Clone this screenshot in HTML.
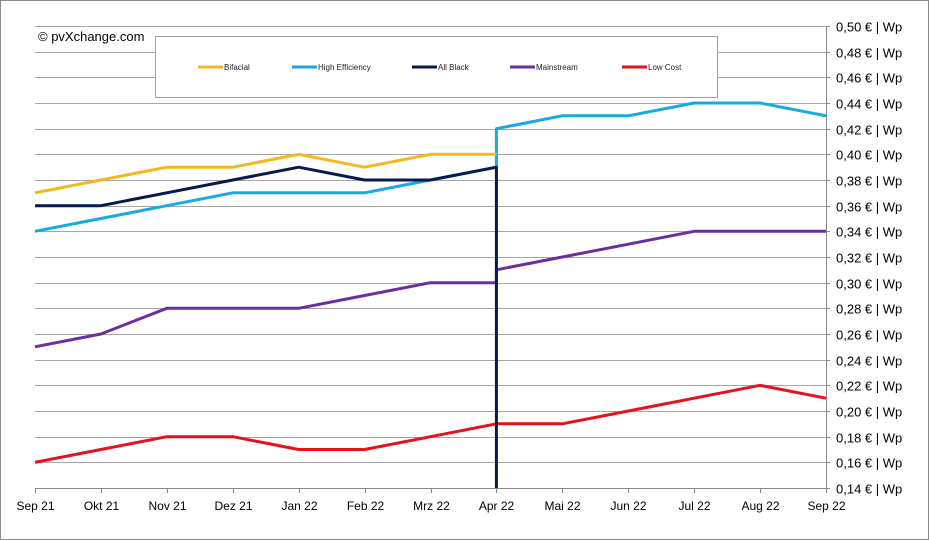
<!DOCTYPE html>
<html><head><meta charset="utf-8"><style>
body{margin:0;background:#fff;}
svg{display:block;font-family:"Liberation Sans",sans-serif;}
</style></head><body>
<svg id="c" width="929" height="540" xmlns="http://www.w3.org/2000/svg">
<rect x="0.5" y="0.5" width="928" height="539" fill="#fff" stroke="#8a8a8a"/>
<g id="grid"></g>
<g id="series"></g>
<g id="axes"></g>
<text x="38" y="41" font-size="13" fill="#000">© pvXchange.com</text>
<g>
<rect x="155.5" y="36.5" width="562" height="61" fill="#fff" stroke="#a0a0a0"/>
<g id="legend"></g>
</g>
</svg>
<script>
const categories=["Sep 21","Okt 21","Nov 21","Dez 21","Jan 22","Feb 22","Mrz 22","Apr 22","Mai 22","Jun 22","Jul 22","Aug 22","Sep 22"];
const yTicks=[0.14,0.16,0.18,0.20,0.22,0.24,0.26,0.28,0.30,0.32,0.34,0.36,0.38,0.40,0.42,0.44,0.46,0.48,0.50];
const seriesNames=["Bifacial","High Efficiency","All Black","Mainstream","Low Cost"];
const seriesColors=["#f4b81c","#17a9e1","#061a4f","#6a2f9e","#e8101a"];
// values Sep21..Apr22 (before change) and Apr22..Sep22 (after change)
const bifacialPre=[0.37,0.38,0.39,0.39,0.40,0.39,0.40,0.40];
const bifacialPost=[];
const highEffPre=[0.34,0.35,0.36,0.37,0.37,0.37,0.38,0.39];
const highEffPost=[0.42,0.43,0.43,0.44,0.44,0.43];
const allBlackPre=[0.36,0.36,0.37,0.38,0.39,0.38,0.38,0.39];
const allBlackPost=[0.14];
const mainstreamPre=[0.25,0.26,0.28,0.28,0.28,0.29,0.30,0.30];
const mainstreamPost=[0.31,0.32,0.33,0.34,0.34,0.34];
const lowCostPre=[0.16,0.17,0.18,0.18,0.17,0.17,0.18,0.19];
const lowCostPost=[0.19,0.19,0.20,0.21,0.22,0.21];
const pre=[bifacialPre,highEffPre,allBlackPre,mainstreamPre,lowCostPre];
const post=[bifacialPost,highEffPost,allBlackPost,mainstreamPost,lowCostPost];

const NS="http://www.w3.org/2000/svg";
const X0=35,X1=826,Y0=488,Y1=26,vmin=0.14,vmax=0.50;
const xs=i=>X0+(X1-X0)*i/(categories.length-1);
const ys=v=>Y0-(Y0-Y1)*(v-vmin)/(vmax-vmin);
function mk(tag,attrs,parent){const e=document.createElementNS(NS,tag);for(const k in attrs)e.setAttribute(k,attrs[k]);parent.appendChild(e);return e;}
const grid=document.getElementById('grid'),axes=document.getElementById('axes'),ser=document.getElementById('series'),leg=document.getElementById('legend');
yTicks.forEach(t=>{
 const y=Math.round(ys(t))+0.5;
 if(t>vmin){const l=mk('line',{x1:X0,x2:X1,y1:y,y2:y,stroke:'#a6a6a6','stroke-width':1},grid);
 
 }
 const tk=mk('line',{x1:X1,x2:X1+4,y1:y,y2:y,stroke:'#888'},axes);
 
 
 const tx=mk('text',{x:X1+10,y:y+5,'font-size':13,fill:'#000'},axes);
 tx.textContent=t.toFixed(2).replace('.',',')+' € | Wp';
 
 
});
const ya=mk('line',{x1:X1+0.5,x2:X1+0.5,y1:Y1,y2:Y0,stroke:'#888'},axes);


const xa=mk('line',{x1:X0,x2:X1,y1:Y0+0.5,y2:Y0+0.5,stroke:'#888'},axes);


categories.forEach((c,i)=>{
 const x=Math.round(xs(i))+0.5;
 const tk=mk('line',{x1:x,x2:x,y1:Y0,y2:Y0+5,stroke:'#888'},axes);
 
 
 const tx=mk('text',{x:x,y:510,'font-size':12,'text-anchor':'middle',fill:'#000'},axes);
 tx.textContent=c;
 
 
});
const order=[4,3,1,0,2];
order.forEach(s=>{
 const pts=pre[s].map((v,i)=>[xs(i),ys(v)]);
 const start=pre[s].length-1;
 post[s].forEach((v,j)=>pts.push([xs(start+j),ys(v)]));
 const p=mk('polyline',{points:pts.map(p=>p[0].toFixed(1)+','+p[1].toFixed(1)).join(' '),fill:'none',stroke:seriesColors[s],'stroke-width':3,'stroke-linejoin':'round'},ser);
 
 
});
const legX=[198,292,412,510,622];
seriesNames.forEach((n,i)=>{
 const l=mk('line',{x1:legX[i],x2:legX[i]+25,y1:67,y2:67,stroke:seriesColors[i],'stroke-width':3},leg);
 
 
 const t=mk('text',{x:legX[i]+26,y:70,'font-size':8,fill:'#222'},leg);
 t.textContent=n;
 
 
});
</script>
</body></html>
